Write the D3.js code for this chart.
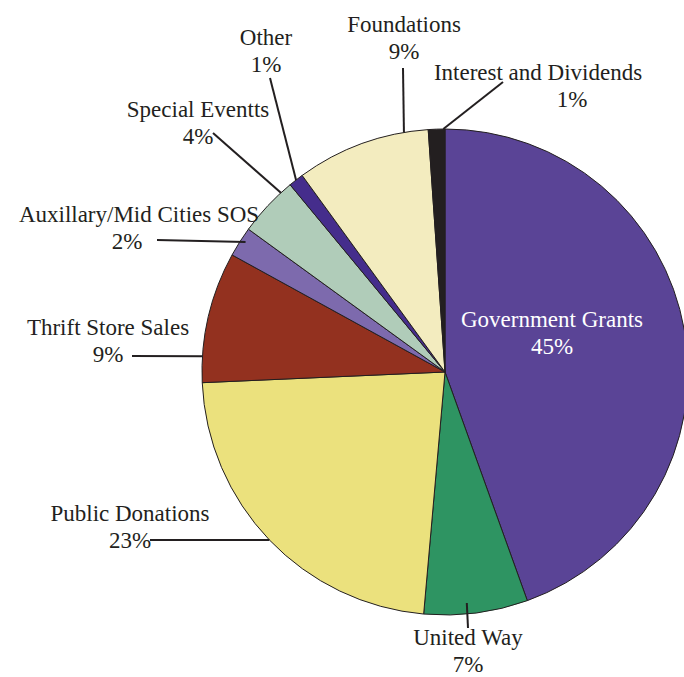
<!DOCTYPE html>
<html lang="en">
  <head>
    <script src="https://d3js.org/d3.v7.min.js"></script>
    <style>
      body {
        margin: 0;
        background: #fff;
      }
      .label {
        font-family: "Liberation Serif", "Times New Roman", serif;
        font-size: 23px;
        fill: #231f20;
      }
    </style>
  </head>
  <body>
    <svg id="pie" width="684" height="677"></svg>
    <script>
      // data (percent of income)
      const categories = [
        "Government Grants",
        "United Way",
        "Public Donations",
        "Thrift Store Sales",
        "Auxillary/Mid Cities SOS",
        "Special Eventts",
        "Other",
        "Foundations",
        "Interest and Dividends",
      ];
      const values = [44.5, 6.9, 22.9, 8.7, 2.0, 4.0, 1.0, 8.9, 1.1];
      const colors = [
        "#5a4496",
        "#2e9462",
        "#ebe17d",
        "#93311f",
        "#7d6aad",
        "#b0ccb9",
        "#452d8c",
        "#f3ecbf",
        "#231f20",
      ];

      // label placement: name position, percent position, leader line end,
      // where on the slice the leader meets it (fraction of slice, radius factor)
      const layout = [
        { x: 552, y: 327, px: 552, inside: true },
        { x: 468, y: 645, px: 468, lx: 468, ly: 628, f: 0.58, rf: 0.955 },
        { x: 130, y: 521, px: 130, lx: 150, ly: 540, f: 0.5, rf: 1 },
        { x: 108, y: 335, px: 108, lx: 132, ly: 356, f: 0.2, rf: 1 },
        { x: 139, y: 222, px: 127, lx: 157, ly: 240, f: 0.6, rf: 0.98 },
        { x: 198, y: 117, px: 198, lx: 213, ly: 133, f: 0.8, rf: 1 },
        { x: 266, y: 45, px: 266, lx: 270, ly: 78, f: 0.5, rf: 1 },
        { x: 404, y: 32, px: 404, lx: 403, ly: 68, f: 0.82, rf: 1 },
        { x: 538, y: 80, px: 572, lx: 503, ly: 82, f: 0.9, rf: 1 },
      ];

      const svg = d3.select("svg#pie");
      const cx = 445;
      const cy = 372;
      const radius = 243;

      const pie = d3
        .pie()
        .sort(null)
        .value((d) => d);
      const arcs = pie(values);
      const arc = d3.arc().innerRadius(0).outerRadius(radius);

      const chartArea = svg
        .append("g")
        .attr("transform", `translate(${cx},${cy})`);

      chartArea
        .selectAll("path")
        .data(arcs)
        .enter()
        .append("path")
        .attr("d", arc)
        .attr("fill", (d, i) => colors[i])
        .attr("stroke", "#231f20")
        .attr("stroke-width", 1)
        .attr("stroke-linejoin", "round");

      // leader lines
      arcs.forEach((d, i) => {
        const l = layout[i];
        if (l.inside) return;
        const a = d.startAngle + (d.endAngle - d.startAngle) * l.f;
        const r = radius * l.rf;
        chartArea
          .append("line")
          .attr("x1", l.lx - cx)
          .attr("y1", l.ly - cy)
          .attr("x2", Math.sin(a) * r)
          .attr("y2", -Math.cos(a) * r)
          .attr("stroke", "#231f20")
          .attr("stroke-width", 2);
      });

      // labels
      categories.forEach((name, i) => {
        const l = layout[i];
        const fill = l.inside ? "#ffffff" : "#231f20";
        svg
          .append("text")
          .attr("class", "label")
          .attr("x", l.x)
          .attr("y", l.y)
          .attr("text-anchor", "middle")
          .style("fill", fill)
          .text(name);
        svg
          .append("text")
          .attr("class", "label")
          .attr("x", l.px)
          .attr("y", l.y + 27)
          .attr("text-anchor", "middle")
          .style("fill", fill)
          .text(Math.round(values[i]) + "%");
      });
    </script>
  </body>
</html>
